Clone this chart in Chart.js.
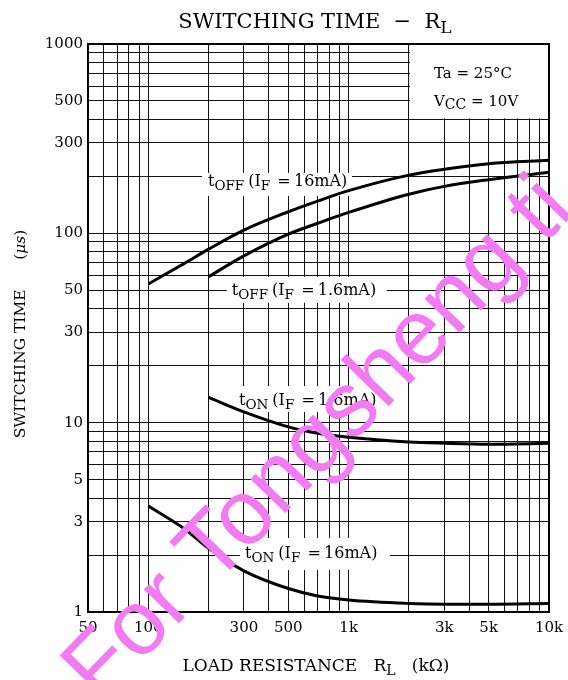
<!DOCTYPE html>
<html><head><meta charset="utf-8">
<script src="https://cdn.jsdelivr.net/npm/chart.js@4/dist/chart.umd.min.js"></script>
<style>html,body{margin:0;padding:0;background:#fff}#wrap{width:568px;height:680px;position:relative}canvas{display:block}</style>
</head><body><div id="wrap"><canvas id="c" width="568" height="680" style="width:568px;height:680px"></canvas></div>
<script>
// ---- data ----
const xGrid = [50,60,70,80,90,100,200,300,400,500,600,700,800,900,1000,2000,3000,4000,5000,6000,7000,8000,9000,10000];
const yGrid = [1,2,3,4,5,6,7,8,9,10,20,30,40,50,60,70,80,90,100,200,300,400,500,600,700,800,900,1000];
const xTickValues = [50,100,300,500,1000,3000,5000,10000];
const xTickText = ['50','100','300','500','1k','3k','5k','10k'];
const yTickValues = [1,3,5,10,30,50,100,300,500,1000];

const rlOff16 = [100,150,200,300,500,700,1000,2000,3000,5000,10000];
const tOff16  = [54,69,82.5,104,130,148,168,203,218,233,243];
const rlOff1p6 = [200,300,500,700,1000,2000,3000,5000,10000];
const tOff1p6 = [59,76,99,113,129,161,177,192,210];
const rlOn1p6 = [200,300,500,700,1000,2000,3000,5000,10000];
const tOn1p6  = [13.6,11.4,9.5,8.79,8.37,7.91,7.79,7.7,7.78];
const rlOn16  = [100,150,200,300,500,700,1000,2000,3000,5000,10000];
const tOn16   = [3.63,2.77,2.17,1.65,1.33,1.215,1.157,1.11,1.10,1.10,1.11];

const serif = '"DejaVu Serif", serif';

// curve annotations (anchor in data coordinates)
const curveLabels = [
  {x:198.6, y:178,  box:[-6,-13,150,10], parts:[['t',0],['OFF',1],['(I',0],['F',1],['\u2009=\u200916mA)',0]]},
  {x:261,   y:47.3, box:[-5,-18,160,8],  parts:[['t',0],['OFF',1],['(I',0],['F',1],['\u2009=\u20091.6mA)',0]]},
  {x:283.7, y:12.4, box:[-7,-19,152,7],  parts:[['t',0],['ON',1],['(I',0],['F',1],['\u2009=\u20091.6mA)',0]]},
  {x:303.9, y:1.93, box:[-5,-20,150,12], parts:[['t',0],['ON',1],['(I',0],['F',1],['\u2009=\u200916mA)',0]]}
];

const makeSet = (xs, ys) => ({
  data: xs.map((x,i)=>({x:x, y:ys[i]})),
  borderColor:'#000', borderWidth:3, pointRadius:0, fill:false,
  cubicInterpolationMode:'monotone'
});

function drawParts(ctx, parts, x, y){
  let cx = x;
  for (const [t, sub] of parts){
    ctx.font = (sub ? '13.5px ' : '16px ') + serif;
    ctx.fillText(t, cx, sub ? y+4 : y);
    cx += ctx.measureText(t).width + (sub?4:0);
  }
}

const deco = {
  id:'deco',
  beforeDatasetsDraw(chart){
    const {ctx, scales:{x, y}} = chart;
    const ca = chart.chartArea;
    ctx.save();
    const bx = x.getPixelForValue(2000), by = y.getPixelForValue(400);
    ctx.fillStyle = '#fff';
    ctx.fillRect(bx+1, ca.top, ca.right-bx-1, by-ca.top-1);
    ctx.fillStyle = '#000';
    ctx.textBaseline = 'alphabetic';
    ctx.font = '15px ' + serif;
    ctx.fillText('Ta = 25°C', bx+25, ca.top+34);
    let vx = bx+25, vy = ca.top+62;
    ctx.fillText('V', vx, vy); vx += ctx.measureText('V').width;
    ctx.font = '14px ' + serif;
    ctx.fillText('CC', vx, vy+3); vx += ctx.measureText('CC').width;
    ctx.font = '15px ' + serif;
    ctx.fillText(' = 10V', vx, vy);
    for (const L of curveLabels){
      const px = x.getPixelForValue(L.x), py = y.getPixelForValue(L.y);
      ctx.fillStyle = '#fff';
      ctx.fillRect(px+L.box[0], py+L.box[1], L.box[2], L.box[3]-L.box[1]);
      ctx.fillStyle = '#000';
      drawParts(ctx, L.parts, px, py);
    }
    ctx.restore();
  },
  afterDatasetsDraw(chart){
    const {ctx} = chart; const ca = chart.chartArea;
    ctx.save();
    ctx.strokeStyle = '#000'; ctx.lineWidth = 2;
    ctx.strokeRect(ca.left, ca.top, ca.right-ca.left, ca.bottom-ca.top);
    ctx.fillStyle = '#000';
    ctx.textBaseline = 'alphabetic';
    // title
    const t1 = 'SWITCHING TIME  \u2212  R';
    ctx.font = '21px ' + serif;
    const w1 = ctx.measureText(t1).width;
    ctx.font = '17px ' + serif;
    const w2 = ctx.measureText('L').width;
    let tx = 315 - (w1+w2)/2;
    ctx.font = '21px ' + serif;
    ctx.fillText(t1, tx, 28);
    ctx.font = '17px ' + serif;
    ctx.fillText('L', tx+w1, 33);
    // x axis title
    ctx.font = '17px ' + serif;
    const a = 'LOAD RESISTANCE   R', b = 'L', c = '   (k\u03A9)';
    const wa = ctx.measureText(a).width, wc = ctx.measureText(c).width;
    ctx.font = '14px ' + serif; const wb = ctx.measureText(b).width;
    let ax = 316 - (wa+wb+wc)/2;
    ctx.font = '17px ' + serif; ctx.fillText(a, ax, 671);
    ctx.font = '14px ' + serif; ctx.fillText(b, ax+wa, 675);
    ctx.font = '17px ' + serif; ctx.fillText(c, ax+wa+wb, 671);
    // y axis title
    ctx.translate(25, 334); ctx.rotate(-Math.PI/2);
    const s1 = 'SWITCHING TIME      (', s2 = '\u03BCs', s3 = ')';
    ctx.font = 'italic 15.5px ' + serif;
    const ws2 = ctx.measureText(s2).width;
    ctx.font = '15.5px ' + serif;
    const ws1 = ctx.measureText(s1).width, ws3 = ctx.measureText(s3).width;
    let sx = -(ws1+ws2+ws3)/2;
    ctx.fillText(s1, sx, 0);
    ctx.font = 'italic 15.5px ' + serif; ctx.fillText(s2, sx+ws1, 0);
    ctx.font = '15.5px ' + serif; ctx.fillText(s3, sx+ws1+ws2, 0);
    ctx.restore();
  },
  afterDraw(chart){
    const {ctx} = chart;
    ctx.save();
    ctx.translate(100, 705);
    ctx.rotate(-46*Math.PI/180);
    ctx.font = '92px "Liberation Sans", sans-serif';
    ctx.fillStyle = '#f27af2';
    ctx.fillText('For Tongsheng ti', 0, 0);
    ctx.restore();
  }
};

new Chart(document.getElementById('c'), {
  type:'line',
  data:{ datasets:[ makeSet(rlOff16,tOff16), makeSet(rlOff1p6,tOff1p6), makeSet(rlOn1p6,tOn1p6), makeSet(rlOn16,tOn16) ] },
  options:{
    responsive:false, maintainAspectRatio:false, animation:false, devicePixelRatio:1,
    layout:{ padding:{ left:0, right:19, top:44, bottom:0 } },
    plugins:{ legend:{display:false}, tooltip:{enabled:false}, title:{display:false} },
    scales:{
      x:{ type:'logarithmic', min:50, max:10000,
        afterBuildTicks(s){ s.ticks = xGrid.map(v=>({value:v})); },
        afterFit(s){ s.height = 68; s.paddingLeft=0; s.paddingRight=0; },
        grid:{ color:'#111', lineWidth:1, drawTicks:false, tickLength:0 },
        border:{ display:false },
        ticks:{ autoSkip:false, maxRotation:0, minRotation:0, padding:7, color:'#000',
          font:{ family:serif, size:15 },
          callback(v){ const i = xTickValues.indexOf(v); return i>=0 ? xTickText[i] : ''; } }
      },
      y:{ type:'logarithmic', min:1, max:1000,
        afterBuildTicks(s){ s.ticks = yGrid.map(v=>({value:v})); },
        afterFit(s){ s.width = 88; s.paddingTop=0; s.paddingBottom=0; },
        grid:{ color:'#111', lineWidth:1, drawTicks:false, tickLength:0 },
        border:{ display:false },
        ticks:{ autoSkip:false, padding:5, color:'#000',
          font:{ family:serif, size:15 },
          callback(v){ return yTickValues.indexOf(v)>=0 ? String(v) : ''; } }
      }
    }
  },
  plugins:[deco]
});
</script></body></html>
